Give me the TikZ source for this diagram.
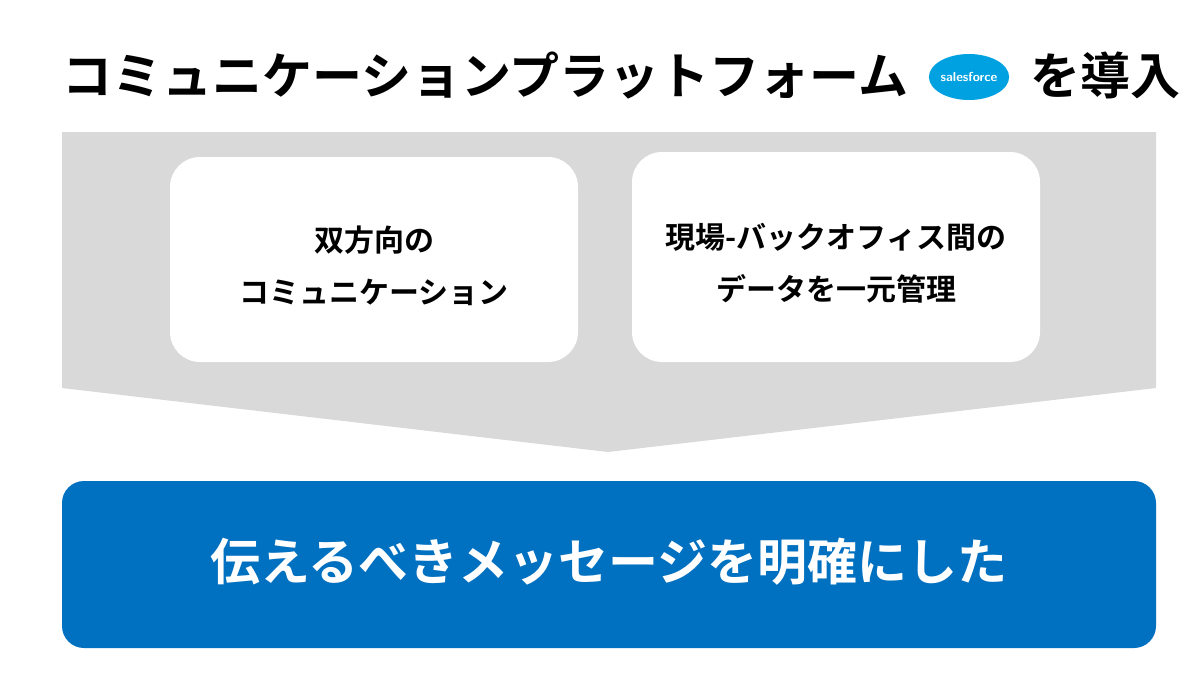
\documentclass[tikz,border=0pt]{standalone}
\usepackage{fontspec}
\newfontfamily\jp{Noto Sans CJK JP Bold}
\usetikzlibrary{positioning,shapes.geometric}
\definecolor{panelGray}{RGB}{217,217,217}
\definecolor{msgBlue}{RGB}{0,112,192}
\definecolor{sfBlue}{RGB}{0,161,224}
\tikzset{
  card/.style={fill=white,rounded corners=30pt,inner sep=0pt},
  cardtext/.style={font=\jp\fontsize{30}{52}\selectfont,align=center,text=black},
}
\begin{document}
\begin{tikzpicture}[x=1pt,y=-1pt]
\path[use as bounding box,fill=white] (0,0) rectangle (1200,675);

% title
\node[anchor=west,inner sep=0pt,font=\jp\fontsize{50}{50}\selectfont] (title) at (62,75) {コミュニケーションプラットフォーム};
\node[fill=sfBlue,ellipse,minimum width=74pt,minimum height=46pt,inner sep=0pt,
  font=\sffamily\bfseries\fontsize{13}{13}\selectfont,text=white] (logo) at (969,77) {salesforce};
\node[anchor=west,inner sep=0pt,font=\jp\fontsize{50}{50}\selectfont] (intro) at (1030,75) {を導入};

% chevron
\path[fill=panelGray] (62,132) -- (1156,132) -- (1156,388) -- (608,452) -- (62,388) -- cycle;

% cards
\path[card] (170,157) rectangle (578,362);
\path[card] (632,152) rectangle (1040,362);
\node[cardtext] (left) at (374,266) {双方向の\\コミュニケーション};
\node[cardtext] (right) at (836,263) {現場-バックオフィス間の\\データを一元管理};

% message
\path[fill=msgBlue,rounded corners=22pt] (62,481) rectangle (1156,648);
\node[font=\jp\fontsize{50}{50}\selectfont,text=white] (msg) at (609,562) {伝えるべきメッセージを明確にした};
\end{tikzpicture}
\end{document}
